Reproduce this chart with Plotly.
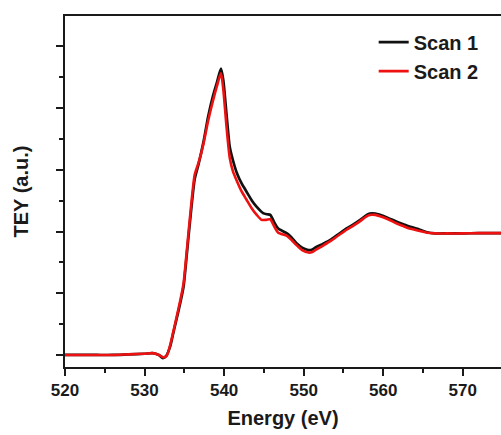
import plotly.graph_objects as go

# Energy (eV) and TEY (a.u.)
energy_scan1 = [520, 522, 524, 526, 528, 530, 531, 531.8, 532.3, 532.7, 533.2, 533.6, 534.0, 534.5,
                534.9, 535.3, 535.7, 536.3, 536.8, 537.4, 538.0, 538.6, 539.1, 539.6, 539.9, 540.3,
                540.7, 541.1, 541.6, 542.2, 542.8, 543.5, 544.1, 544.9, 545.4, 545.8, 546.3, 546.8,
                547.9, 548.5, 549.1, 549.8, 550.6, 551.1, 551.6, 552.4, 553.3, 554.4, 555.4, 556.3,
                557.1, 557.8, 558.3, 559.0, 559.6, 560.6, 561.7, 562.5, 563.3, 564.6, 565.5, 566.5,
                568, 570, 572, 575]
tey_scan1 = [0.0, 0.0, 0.0, 0.0, 0.01, 0.02, 0.03, 0.0, -0.05, -0.02, 0.13, 0.35, 0.57, 0.85,
             1.11, 1.62, 2.15, 2.85, 3.1, 3.45, 3.87, 4.2, 4.42, 4.64, 4.45, 3.9,
             3.38, 3.16, 2.95, 2.78, 2.65, 2.50, 2.40, 2.30, 2.28, 2.27, 2.15, 2.05,
             1.97, 1.90, 1.81, 1.74, 1.70, 1.71, 1.75, 1.80, 1.86, 1.96, 2.05, 2.12,
             2.19, 2.26, 2.29, 2.29, 2.27, 2.22, 2.16, 2.12, 2.08, 2.03, 1.99, 1.97,
             1.97, 1.97, 1.975, 1.975]

energy_scan2 = [520, 522, 524, 526, 528, 530, 531, 531.8, 532.4, 532.8, 533.2, 533.6, 534.0, 534.5,
                534.9, 535.3, 535.7, 536.3, 536.8, 537.4, 538.0, 538.6, 539.1, 539.6, 539.9, 540.3,
                540.7, 541.1, 541.6, 542.2, 542.8, 543.5, 544.1, 544.7, 545.3, 545.8, 546.3, 546.8,
                547.9, 548.5, 549.1, 549.8, 550.6, 551.1, 551.6, 552.4, 553.3, 554.4, 555.4, 556.3,
                557.1, 557.8, 558.3, 559.0, 559.6, 560.6, 561.7, 562.5, 563.3, 564.6, 565.5, 566.5,
                568, 570, 572, 575]
tey_scan2 = [0.0, 0.0, 0.0, 0.0, 0.01, 0.02, 0.03, 0.0, -0.04, -0.01, 0.15, 0.37, 0.60, 0.89,
             1.16, 1.68, 2.22, 2.92, 3.12, 3.42, 3.80, 4.12, 4.36, 4.57, 4.30, 3.70,
             3.20, 2.98, 2.82, 2.65, 2.52, 2.37, 2.27, 2.19, 2.19, 2.20, 2.08, 1.98,
             1.93, 1.86, 1.78, 1.70, 1.66, 1.67, 1.71, 1.77, 1.84, 1.94, 2.03, 2.10,
             2.17, 2.24, 2.27, 2.27, 2.25, 2.20, 2.13, 2.09, 2.05, 2.01, 1.98, 1.97,
             1.97, 1.97, 1.975, 1.975]

series_names = ["Scan 1", "Scan 2"]
x_tick_vals = [520, 530, 540, 550, 560, 570]

FONT = "Liberation Sans, Arial, sans-serif"
AX = "#1a1a1a"

fig = go.Figure()
fig.add_trace(go.Scatter(x=energy_scan1, y=tey_scan1, mode="lines", name=series_names[0],
                         line=dict(color="#111111", width=2.7, shape="spline", smoothing=0.6)))
fig.add_trace(go.Scatter(x=energy_scan2, y=tey_scan2, mode="lines", name=series_names[1],
                         line=dict(color="#ee1111", width=2.6, shape="spline", smoothing=0.6)))

fig.update_layout(
    width=501, height=435,
    margin=dict(l=65, r=0, t=16, b=68),
    paper_bgcolor="white", plot_bgcolor="white",
    font=dict(family=FONT, color=AX),
    showlegend=True,
    legend=dict(x=0.708, y=0.981, xanchor="left", yanchor="top",
                bgcolor="rgba(0,0,0,0)", borderwidth=0,
                font=dict(family=FONT, size=20, weight="bold", color=AX),
                tracegroupgap=0),
    xaxis=dict(
        range=[520, 574.8], tickvals=x_tick_vals, ticktext=[str(v) for v in x_tick_vals],
        showgrid=False, zeroline=False, automargin=False,
        showline=True, linecolor=AX, linewidth=2, mirror=True,
        ticks="outside", ticklen=7, tickwidth=2, tickcolor=AX,
        minor=dict(dtick=5, tick0=520, ticks="outside", ticklen=4, tickwidth=2, tickcolor=AX),
        tickfont=dict(family=FONT, size=17, weight="bold", color=AX),
        title=dict(text="Energy (eV)", standoff=12,
                   font=dict(family=FONT, size=20, weight="bold", color=AX)),
    ),
    yaxis=dict(
        range=[-0.195, 5.494], dtick=1, tick0=0,
        showgrid=False, zeroline=False, showticklabels=False, automargin=False,
        showline=True, linecolor=AX, linewidth=2, mirror=False,
        ticks="outside", ticklen=7, tickwidth=2, tickcolor=AX,
        minor=dict(dtick=0.5, tick0=0, ticks="outside", ticklen=4, tickwidth=2, tickcolor=AX),
        title=dict(text="TEY (a.u.)", standoff=22,
                   font=dict(family=FONT, size=20, weight="bold", color=AX)),
    ),
)

fig.write_html("out.html", config={"displayModeBar": False},
               post_script="document.body.style.margin='0';document.body.style.overflow='hidden';")
